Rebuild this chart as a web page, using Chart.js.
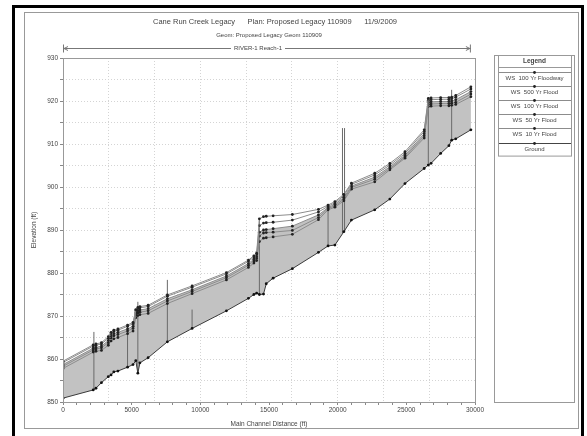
<!DOCTYPE html>
<html>
<head>
<meta charset="utf-8">
<title>Cane Run Creek Legacy profile</title>
<script src="https://cdn.jsdelivr.net/npm/chart.js@4.4.1/dist/chart.umd.min.js"></script>
<style>
  html, body { margin: 0; padding: 0; background: #fff; }
  body { width: 587px; height: 436px; position: relative; overflow: hidden; }
  #outer { position: absolute; left: 12px; top: 5px; width: 572px; height: 450px; border: 3px solid #000; box-sizing: border-box; }
  #frame { position: absolute; left: 24px; top: 12px; width: 555px; height: 417px; border: 1px solid #999; box-sizing: border-box; }
  #chart { position: absolute; left: 0; top: 0; }
</style>
</head>
<body>
<div id="outer"></div>
<div id="frame"></div>
<canvas id="chart" width="587" height="436"></canvas>
<script>
// Main channel distance of each cross section (ft)
const stations = [0, 2200, 2400, 2800, 3300, 3500, 3700, 4000, 4700, 5100, 5300, 5450, 5600, 6200, 7600, 9400, 11900, 13500, 13900, 14100, 14300, 14600, 14800, 15300, 16700, 18600, 19300, 19800, 20450, 21000, 22700, 23800, 24900, 26300, 26600, 26800, 27500, 28100, 28300, 28600, 29700];

// Water surface elevations (ft)
const wsFloodway = [859.5, 863.3, 863.5, 863.8, 865.2, 866.2, 866.7, 867.0, 867.9, 868.5, 871.5, 872.0, 872.2, 872.5, 874.9, 877.0, 880.1, 883.0, 884.0, 884.6, 892.6, 893.1, 893.2, 893.3, 893.6, 894.8, 895.8, 896.6, 898.3, 900.9, 903.2, 905.5, 908.2, 913.3, 920.6, 920.7, 920.8, 920.8, 920.9, 921.3, 923.3];
const ws500 = [859.2, 863.0, 863.2, 863.5, 864.8, 865.9, 866.4, 866.7, 867.6, 868.2, 871.2, 871.7, 871.9, 872.2, 874.6, 876.7, 879.8, 882.7, 883.7, 884.3, 891.0, 891.6, 891.7, 891.8, 892.3, 894.2, 895.5, 896.3, 898.0, 900.6, 902.8, 905.1, 907.8, 912.9, 920.2, 920.3, 920.4, 920.4, 920.5, 920.9, 922.8];
const ws100 = [858.7, 862.5, 862.7, 863.0, 864.3, 865.4, 865.9, 866.2, 867.0, 867.6, 870.7, 871.2, 871.4, 871.7, 874.0, 876.1, 879.3, 882.2, 883.2, 883.8, 889.5, 890.0, 890.1, 890.3, 890.9, 893.5, 895.2, 896.0, 897.6, 900.2, 902.3, 904.7, 907.4, 912.4, 919.7, 919.8, 919.9, 919.9, 920.0, 920.3, 922.2];
const ws50 = [858.3, 862.1, 862.3, 862.6, 863.8, 864.9, 865.4, 865.7, 866.5, 867.1, 870.2, 870.7, 870.9, 871.2, 873.5, 875.7, 878.9, 881.8, 882.8, 883.4, 888.6, 889.3, 889.4, 889.5, 889.9, 892.9, 895.0, 895.6, 897.2, 899.9, 901.8, 904.3, 907.0, 911.9, 919.2, 919.3, 919.4, 919.4, 919.5, 919.7, 921.6];
const ws10 = [857.8, 861.6, 861.8, 862.0, 863.2, 864.2, 864.7, 865.0, 865.9, 866.5, 869.6, 870.1, 870.3, 870.6, 872.9, 875.2, 878.4, 881.3, 882.3, 882.9, 887.3, 888.1, 888.2, 888.4, 889.0, 892.4, 894.7, 895.3, 896.8, 899.5, 901.2, 904.0, 906.7, 911.4, 918.7, 918.8, 918.9, 918.9, 919.0, 919.2, 921.0];
const ground = [850.9, 852.8, 853.2, 854.5, 855.9, 856.3, 857.0, 857.2, 858.1, 858.7, 859.6, 856.7, 859.1, 860.3, 864.0, 867.1, 871.2, 874.1, 875.0, 875.3, 875.0, 875.1, 877.5, 878.8, 881.0, 884.8, 886.3, 886.5, 889.6, 892.3, 894.7, 897.2, 900.8, 904.3, 905.1, 905.5, 907.8, 909.6, 910.9, 911.2, 913.3];

// Bridges / culverts drawn as vertical lines
const structX = [2250, 4700, 5450, 7600, 9400, 14300, 19300, 20350, 20500, 26600, 28300];
const structBottom = [852.9, 858.1, 856.7, 864.0, 867.1, 875.0, 886.3, 889.3, 889.6, 905.1, 910.9];
const structTop = [866.3, 867.9, 873.3, 878.4, 871.5, 892.6, 896.0, 913.7, 913.7, 920.6, 922.6];

const seriesLabels = ['WS  100 Yr Floodway', 'WS  500 Yr Flood', 'WS  100 Yr Flood', 'WS  50 Yr Flood', 'WS  10 Yr Flood', 'Ground'];

const FONT = '"Liberation Sans", Arial, sans-serif';
const TXT = '#444';

function series(vals) {
    return stations.map((x, i) => ({ x: x, y: vals[i] }));
}

const structPts = [];
structX.forEach((x, i) => {
    structPts.push({ x: x, y: structBottom[i] }, { x: x, y: structTop[i] }, { x: x, y: null });
});

function wsSet(label, vals, extra) {
    return Object.assign({
        label: label,
        data: series(vals),
        borderColor: '#8c8c8c',
        borderWidth: 1,
        pointRadius: 1.4,
        pointBackgroundColor: '#222',
        pointBorderWidth: 0,
        fill: false,
        tension: 0
    }, extra || {});
}

// titles, reach arrow, legend, plot frame
const decorations = {
    id: 'decorations',
    afterDraw(chart) {
        const ctx = chart.ctx;
        const a = chart.chartArea;
        const xs = chart.scales.x;
        ctx.save();

        ctx.strokeStyle = '#999';
        ctx.lineWidth = 1;
        ctx.strokeRect(Math.round(a.left) + 0.5, Math.round(a.top) + 0.5, Math.round(a.right - a.left), Math.round(a.bottom - a.top));

        ctx.fillStyle = TXT;
        ctx.textBaseline = 'middle';
        ctx.textAlign = 'center';
        ctx.font = '7.5px ' + FONT;
        ctx.fillText('Cane Run Creek Legacy      Plan: Proposed Legacy 110909      11/9/2009', 275, 22);
        ctx.font = '6px ' + FONT;
        ctx.fillText('Geom: Proposed Legacy Geom 110909', 269, 35);

        // reach arrow
        const r0 = xs.getPixelForValue(stations[0]);
        const r1 = xs.getPixelForValue(stations[stations.length - 1]);
        const ry = 48.5;
        ctx.strokeStyle = '#777';
        ctx.beginPath();
        ctx.moveTo(r0, ry); ctx.lineTo(r1, ry);
        ctx.moveTo(r0 + 0.5, ry - 4); ctx.lineTo(r0 + 0.5, ry + 4);
        ctx.moveTo(r1 - 0.5, ry - 4); ctx.lineTo(r1 - 0.5, ry + 4);
        ctx.moveTo(r0 + 5, ry - 2); ctx.lineTo(r0 + 1, ry); ctx.lineTo(r0 + 5, ry + 2);
        ctx.moveTo(r1 - 5, ry - 2); ctx.lineTo(r1 - 1, ry); ctx.lineTo(r1 - 5, ry + 2);
        ctx.stroke();
        ctx.font = '6px ' + FONT;
        const rt = 'RIVER-1 Reach-1';
        const rw = ctx.measureText(rt).width;
        const rc = 258;
        ctx.fillStyle = '#fff';
        ctx.fillRect(rc - rw / 2 - 3, ry - 4, rw + 6, 8);
        ctx.fillStyle = TXT;
        ctx.fillText(rt, rc, ry);

        // legend
        const L = 494, R = 574, T = 55;
        ctx.strokeStyle = '#999';
        ctx.strokeRect(L + 0.5, T + 0.5, R - L, a.bottom - T);
        const iL = 498, iR = 571;
        ctx.strokeRect(iL + 0.5, T + 0.5, iR - iL, 12);
        ctx.font = 'bold 6.5px ' + FONT;
        ctx.fillText('Legend', (iL + iR) / 2, T + 6.5);
        const rowH = 14.1;
        const top0 = T + 12;
        ctx.strokeRect(iL + 0.5, top0 + 0.5, iR - iL, rowH * seriesLabels.length + 4);
        ctx.font = '6px ' + FONT;
        seriesLabels.forEach((lab, i) => {
            const ly = Math.round(top0 + 5 + rowH * i) + 0.5;
            ctx.strokeStyle = i === 5 ? '#444' : '#8c8c8c';
            ctx.beginPath();
            ctx.moveTo(iL + 1, ly); ctx.lineTo(iR, ly);
            ctx.stroke();
            ctx.fillStyle = '#222';
            ctx.beginPath();
            ctx.arc((iL + iR) / 2, ly, 1.4, 0, Math.PI * 2);
            ctx.fill();
            ctx.fillStyle = TXT;
            ctx.fillText(lab, (iL + iR) / 2, ly + 6);
        });
        ctx.restore();
    }
};

new Chart(document.getElementById('chart'), {
    type: 'line',
    data: {
        datasets: [
            wsSet(seriesLabels[0], wsFloodway),
            wsSet(seriesLabels[1], ws500),
            wsSet(seriesLabels[2], ws100, { fill: 5, backgroundColor: '#c2c2c2' }),
            wsSet(seriesLabels[3], ws50),
            wsSet(seriesLabels[4], ws10),
            wsSet(seriesLabels[5], ground, { borderColor: '#3a3a3a', pointBackgroundColor: '#111' }),
            {
                label: 'Structures',
                data: structPts,
                borderColor: '#6a6a6a',
                borderWidth: 1,
                pointRadius: 0,
                spanGaps: false,
                fill: false
            }
        ]
    },
    options: {
        responsive: false,
        animation: false,
        events: [],
        layout: { padding: { left: 24, top: 58, right: 112, bottom: 8 } },
        plugins: {
            legend: { display: false },
            tooltip: { enabled: false },
            filler: { drawTime: 'beforeDatasetsDraw' }
        },
        scales: {
            x: {
                type: 'linear',
                min: 0,
                max: 30000,
                afterFit: s => { s.height = 26; },
                ticks: {
                    stepSize: 1000,
                    autoSkip: false,
                    maxRotation: 0,
                    padding: 1,
                    color: TXT,
                    font: { family: FONT, size: 6.5 },
                    callback: v => (v % 5000 === 0 ? String(v) : '')
                },
                grid: { drawOnChartArea: false, tickLength: 3, color: '#888' },
                border: { color: '#999' },
                title: {
                    display: true,
                    text: 'Main Channel Distance (ft)',
                    color: TXT,
                    font: { family: FONT, size: 6.5 },
                    padding: { top: 0, bottom: 0 }
                }
            },
            xg: {
                type: 'linear',
                position: 'top',
                min: 0,
                max: 30000,
                afterFit: s => { s.height = 0; },
                ticks: { display: false, stepSize: 30000 / 9 },
                grid: { color: '#d4d4d4', drawTicks: false },
                border: { display: false, dash: [1, 2] }
            },
            y: {
                min: 850,
                max: 930,
                afterFit: s => { s.width = 39; },
                ticks: {
                    stepSize: 5,
                    autoSkip: false,
                    padding: 2,
                    color: TXT,
                    font: { family: FONT, size: 6.5 },
                    callback: v => (v % 10 === 0 ? String(v) : '')
                },
                grid: { drawOnChartArea: false, tickLength: 3, color: '#888' },
                border: { color: '#999' },
                title: {
                    display: true,
                    text: 'Elevation (ft)',
                    color: TXT,
                    font: { family: FONT, size: 6.5 },
                    padding: { top: 6, bottom: 0 }
                }
            },
            yg: {
                position: 'right',
                min: 850,
                max: 930,
                afterFit: s => { s.width = 0; },
                ticks: { display: false, stepSize: 5 },
                grid: { color: '#d4d4d4', drawTicks: false },
                border: { display: false, dash: [1, 2] }
            }
        }
    },
    plugins: [decorations]
});
</script>
</body>
</html>
